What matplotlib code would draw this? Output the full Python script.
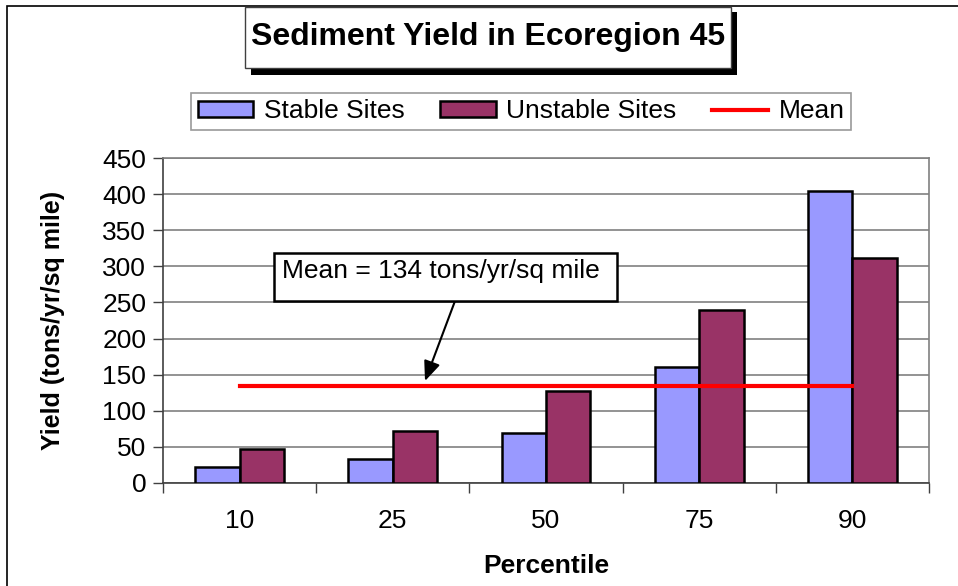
import matplotlib
matplotlib.use("Agg")
import matplotlib.pyplot as plt
import numpy as np
from matplotlib.patches import Rectangle, Patch
from matplotlib.lines import Line2D

plt.rcParams['font.family'] = ['Liberation Sans', 'DejaVu Sans']

# data
percentiles = ['10', '25', '50', '75', '90']
stable = [22, 33, 69, 161, 405]
unstable = [47, 72, 128, 239, 311]
mean_value = 134
mean_label = 'Mean = 134 tons/yr/sq mile'

stable_color = '#9999FF'
unstable_color = '#993366'

W, H = 958, 586
fig = plt.figure(figsize=(W / 100, H / 100), dpi=100)


def fx(x):
    return x / W


def fy(y):
    return 1 - y / H


# outer frame (only left and top visible)
fig.patches.append(Rectangle((fx(7), fy(620)), fx(1000) - fx(7), fy(6) - fy(620),
                             transform=fig.transFigure, fill=False, ec='black', lw=1.2))

ax = fig.add_axes([fx(163), fy(483), fx(929) - fx(163), fy(158) - fy(483)])
x = np.arange(len(percentiles))
bw = 0.29
ax.bar(x - bw / 2, stable, bw, color=stable_color, edgecolor='black', lw=1.8, zorder=3)
ax.bar(x + bw / 2, unstable, bw, color=unstable_color, edgecolor='black', lw=1.8, zorder=3)
ax.plot([x[0], x[-1]], [mean_value, mean_value], color='red', lw=3, zorder=4)

ax.set_xlim(-0.5, len(percentiles) - 0.5)
ax.set_ylim(0, 450)
ax.set_yticks(np.arange(0, 451, 50))
ax.yaxis.grid(True, color='#808080', lw=1.2)
ax.set_axisbelow(True)
ax.tick_params(axis='y', labelsize=19, length=7, width=1, color='#404040', pad=5)
ax.set_xticks(x)
ax.set_xticklabels(percentiles)
ax.set_xticks(np.arange(-0.5, len(percentiles)), minor=True)
ax.tick_params(axis='x', which='major', length=0, labelsize=19, pad=19)
ax.tick_params(axis='x', which='minor', length=7, width=1, color='#404040')
for s in ['left', 'bottom']:
    ax.spines[s].set_color('#404040')
    ax.spines[s].set_linewidth(1.2)
for s in ['top', 'right']:
    ax.spines[s].set_color('#808080')
    ax.spines[s].set_linewidth(1.2)

ax.set_ylabel('Yield (tons/yr/sq mile)', fontsize=18, fontweight='bold', labelpad=27)
ax.set_xlabel('Percentile', fontsize=19, fontweight='bold', labelpad=15)

# title box with shadow
fig.patches.append(Rectangle((fx(251), fy(75)), fx(737) - fx(251), fy(12) - fy(75),
                             transform=fig.transFigure, fc='black', ec='none'))
fig.patches.append(Rectangle((fx(245), fy(68)), fx(731) - fx(245), fy(7) - fy(68),
                             transform=fig.transFigure, fc='white', ec='#404040', lw=1))
fig.text(fx(488), fy(37), 'Sediment Yield in Ecoregion 45', fontsize=23,
         fontweight='bold', ha='center', va='center')

# legend
handles = [Patch(fc=stable_color, ec='black', lw=1.8),
           Patch(fc=unstable_color, ec='black', lw=1.8),
           Line2D([], [], color='red', lw=3)]
leg = fig.legend(handles, ['Stable Sites', 'Unstable Sites', 'Mean'], ncol=3,
                 loc='center', bbox_to_anchor=(fx(191), fy(134), fx(851) - fx(191), fy(89) - fy(134)),
                 mode='expand', fontsize=19, frameon=True, fancybox=False,
                 handlelength=2.1, handleheight=0.55, handletextpad=0.4, borderaxespad=0,
                 borderpad=0.25, columnspacing=1.2)
leg.get_frame().set_edgecolor('#808080')
leg.get_frame().set_linewidth(1.2)

# mean callout
fig.patches.append(Rectangle((fx(274), fy(301)), fx(617) - fx(274), fy(253) - fy(301),
                             transform=fig.transFigure, fc='white', ec='black', lw=1.8, zorder=5))
fig.text(fx(282), fy(278), mean_label, fontsize=19, ha='left', va='baseline', zorder=6)
ax.annotate('', xy=(fx(425), fy(381)), xycoords='figure fraction',
            xytext=(fx(455), fy(301)), textcoords='figure fraction',
            arrowprops=dict(arrowstyle='-|>,head_length=1.2,head_width=0.5', color='black',
                            lw=1.5, shrinkA=0, shrinkB=0), zorder=6)

fig.savefig('out.png', dpi=100)
